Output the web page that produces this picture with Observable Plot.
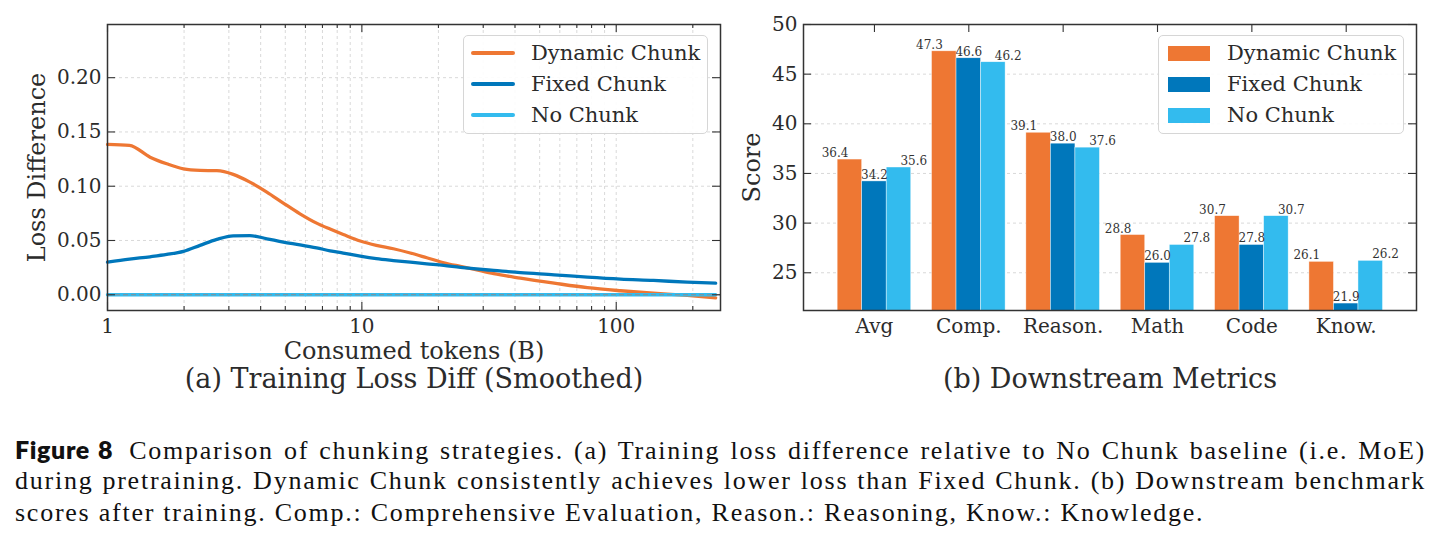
<!DOCTYPE html>
<html>
<head>
<meta charset="utf-8">
<script src="https://cdn.jsdelivr.net/npm/d3@7"></script>
<script src="https://cdn.jsdelivr.net/npm/@observablehq/plot@0.6"></script>
<style>
  body { margin: 0; background: #fff; }
  #fig { position: relative; width: 1445px; height: 544px; overflow: hidden; font-family: "DejaVu Serif", serif; color: #2b2b2b; }
  #pa { position: absolute; left: 0; top: 0; }
  #pb { position: absolute; left: 722px; top: 0; }
  .legend { position: absolute; background: rgba(255,255,255,0.9); border: 1px solid #d6d6d6; border-radius: 5px; box-sizing: border-box; }
  .row { position: absolute; left: 0; right: 0; height: 31px; }
  .sw-line { position: absolute; height: 3.4px; margin-top: -1.7px; top: 50%; }
  .sw-patch { position: absolute; height: 15px; margin-top: -7.5px; top: 50%; }
  .lab { position: absolute; top: 50%; transform: translateY(-50%); font-size: 21px; white-space: nowrap; line-height: 1; }
  #caption { position: absolute; left: 15px; top: 433px; width: 1411px; font-family: "Liberation Serif", serif; font-size: 26px; color: #111; letter-spacing: 1.75px; }
  #caption .ln { height: 32px; line-height: 32px; white-space: nowrap; }
  #caption .j { text-align: justify; text-align-last: justify; white-space: normal; }
  #caption b { font-family: Lato, "Noto Sans", sans-serif; font-weight: 800; font-size: 25px; letter-spacing: 0.6px; margin-right: 6px; }
</style>
</head>
<body>
<div id="fig">
  <div id="pa"></div>
  <div id="pb"></div>
  <div id="legA" class="legend" style="left:463px;top:35px;width:245px;height:99px;"></div>
  <div id="legB" class="legend" style="left:1158px;top:35px;width:246px;height:99px;"></div>
  <div id="caption">
    <div class="ln j"><b>Figure 8</b> Comparison of chunking strategies. (a) Training loss difference relative to No Chunk baseline (i.e. MoE)</div>
    <div class="ln j">during pretraining. Dynamic Chunk consistently achieves lower loss than Fixed Chunk. (b) Downstream benchmark</div>
    <div class="ln">scores after training. Comp.: Comprehensive Evaluation, Reason.: Reasoning, Know.: Knowledge.</div>
  </div>
</div>
<script>
// ---------- data ----------
const seriesNames = ["Dynamic Chunk", "Fixed Chunk", "No Chunk"];

// (a) training loss difference vs consumed tokens (B)
const tokens      = [1, 1.22, 1.47, 1.71, 1.99, 2.31, 2.69, 3.12, 3.63, 4.23, 4.91, 5.71, 6.64, 7.5, 8.45, 9.85, 11.4, 13.3, 15.5, 18.0, 21.0, 24.4, 27.5, 33, 42, 57, 77, 104, 140, 190, 246];
const dynamicLoss = [0.1385, 0.1376, 0.1268, 0.1207, 0.1160, 0.1146, 0.1143, 0.1109, 0.1038, 0.0946, 0.0845, 0.0746, 0.0660, 0.0605, 0.0555, 0.0495, 0.0455, 0.0424, 0.0385, 0.0341, 0.0295, 0.0261, 0.0235, 0.0194, 0.0153, 0.0107, 0.0065, 0.0037, 0.0015, -0.0006, -0.0028];
const fixedLoss   = [0.0300, 0.0328, 0.0350, 0.0371, 0.0400, 0.0455, 0.0510, 0.0543, 0.0545, 0.0516, 0.0485, 0.0460, 0.0432, 0.0405, 0.0384, 0.0355, 0.0332, 0.0315, 0.0300, 0.0285, 0.0270, 0.0252, 0.0240, 0.0224, 0.0203, 0.0184, 0.0162, 0.0144, 0.0132, 0.0116, 0.0107];
const noChunkLoss = [0, 0, 0, 0, 0, 0, 0, 0, 0, 0, 0, 0, 0, 0, 0, 0, 0, 0, 0, 0, 0, 0, 0, 0, 0, 0, 0, 0, 0, 0, 0];
const lossTicks   = [0, 0.05, 0.10, 0.15, 0.20];
const tokenTickLabels = [1, 10, 100];

// (b) downstream metrics
const categories    = ["Avg", "Comp.", "Reason.", "Math", "Code", "Know."];
const dynamicScores = [36.4, 47.3, 39.1, 28.8, 30.7, 26.1];
const fixedScores   = [34.2, 46.6, 38.0, 26.0, 27.8, 21.9];
const noChunkScores = [35.6, 46.2, 37.6, 27.8, 30.7, 26.2];
const scoreTicks    = [25, 30, 35, 40, 45, 50];

// ---------- style ----------
const colors = ["#EE7733", "#0077BB", "#33BBEE"];
const ink = "#2b2b2b";
const fontStyle = {fontFamily: '"DejaVu Serif", serif', fontSize: "20px", color: ink, background: "transparent", overflow: "visible"};
const gridStyle = {stroke: "#cfcfcf", strokeWidth: 0.8, strokeDasharray: "3,3"};
const tickStyle = {stroke: "#333", strokeWidth: 1.1};

// ---------- panel (a) ----------
const W = 722, H = 400, mT = 24, mB = 90;
const aL = 107, aR = 2;
const frameHA = H - mT - mB, frameWA = W - aL - aR;
const lossSeries = [dynamicLoss, fixedLoss, noChunkLoss];
const lossTable = [];
lossSeries.forEach((vals, si) => tokens.forEach((t, i) => lossTable.push({series: seriesNames[si], t, v: vals[i]})));
const xDomA = [1, 257];
const allLogTicks = d3.scaleLog().domain(xDomA).ticks();
const minorLog = allLogTicks.filter(d => !tokenTickLabels.includes(d));

const plotA = Plot.plot({
  width: W, height: H, marginLeft: aL, marginRight: aR, marginTop: mT, marginBottom: mB,
  style: fontStyle,
  x: {type: "log", domain: xDomA},
  y: {domain: [-0.0145, 0.249]},
  color: {domain: seriesNames, range: colors},
  marks: [
    Plot.ruleX(allLogTicks, {x: d => d, ...gridStyle}),
    Plot.ruleY(lossTicks, {y: d => d, ...gridStyle}),
    Plot.line(lossTable, {x: "t", y: "v", z: "series", stroke: "series", strokeWidth: 3.3, curve: "monotone-x"}),
    Plot.ruleY([0], {stroke: "#8f8f8f", strokeWidth: 1.1, strokeDasharray: "5,3"}),
    // inward ticks
    Plot.tickY(lossTicks, {y: d => d, insetRight: frameWA - 8, ...tickStyle}),
    Plot.tickY(lossTicks, {y: d => d, insetLeft: frameWA - 8, ...tickStyle}),
    Plot.tickX(tokenTickLabels, {x: d => d, insetTop: frameHA - 8, ...tickStyle}),
    Plot.tickX(tokenTickLabels, {x: d => d, insetBottom: frameHA - 8, ...tickStyle}),
    Plot.tickX(minorLog, {x: d => d, insetTop: frameHA - 4, ...tickStyle}),
    Plot.tickX(minorLog, {x: d => d, insetBottom: frameHA - 4, ...tickStyle}),
    Plot.frame({stroke: "#333", strokeWidth: 1.5}),
    Plot.axisY({ticks: lossTicks, tickFormat: d3.format(".2f"), tickSize: 0, tickPadding: 6, label: null, fontSize: 20}),
    Plot.axisX({ticks: tokenTickLabels, tickFormat: d => String(d), tickSize: 0, tickPadding: 8, label: null, fontSize: 20}),
    Plot.text(["Loss Difference"], {frameAnchor: "left", rotate: -90, dx: -70, textAnchor: "middle", lineAnchor: "middle", fontSize: 24, fill: ink}),
    Plot.text(["Consumed tokens (B)"], {frameAnchor: "bottom", dy: 41, textAnchor: "middle", lineAnchor: "middle", fontSize: 24, fill: ink}),
    Plot.text(["(a) Training Loss Diff (Smoothed)"], {frameAnchor: "bottom", dy: 69, textAnchor: "middle", lineAnchor: "middle", fontSize: 27, fill: ink})
  ]
});
document.getElementById("pa").appendChild(plotA);

// ---------- panel (b) ----------
const bL = 81, bR = 29;
const frameWB = W + 1 - bL - bR;
const barW = 0.26;
const scoreSeries = [dynamicScores, fixedScores, noChunkScores];
const barTable = [];
scoreSeries.forEach((vals, si) => categories.forEach((c, ci) => {
  const xc = ci + (si - 1) * barW;
  barTable.push({series: seriesNames[si], si, ci, value: vals[ci], xc, x1: xc - barW / 2, x2: xc + barW / 2});
}));
const catIdx = d3.range(categories.length);
const anchors = ["end", "middle", "start"];
const dxs = [-1.5, 0, 1.5];

const plotB = Plot.plot({
  width: W + 1, height: H, marginLeft: bL, marginRight: bR, marginTop: mT, marginBottom: mB,
  style: fontStyle,
  x: {domain: [-0.752, 5.745]},
  y: {domain: [21.2, 50]},
  color: {domain: seriesNames, range: colors},
  marks: [
    Plot.ruleY(scoreTicks, {y: d => d, ...gridStyle}),
    Plot.rect(barTable, {x1: "x1", x2: "x2", y1: () => 0, y2: "value", fill: "series", stroke: "white", strokeWidth: 0.6, strokeOpacity: 0.7, clip: true}),
    ...anchors.map((a, si) => Plot.text(barTable.filter(d => d.si === si), {
      x: "xc", y: "value", text: d => d.value.toFixed(1), textAnchor: a, dx: dxs[si], dy: -2.5,
      lineAnchor: "bottom", fontSize: 12, fill: "#333"
    })),
    Plot.tickY(scoreTicks, {y: d => d, insetRight: frameWB - 8, ...tickStyle}),
    Plot.tickY(scoreTicks, {y: d => d, insetLeft: frameWB - 8, ...tickStyle}),
    Plot.tickX(catIdx, {x: d => d, insetBottom: frameHA - 8, ...tickStyle}),
    Plot.frame({stroke: "#333", strokeWidth: 1.5}),
    Plot.axisY({ticks: scoreTicks, tickSize: 0, tickPadding: 6, label: null, fontSize: 20}),
    Plot.axisX({ticks: catIdx, tickFormat: i => categories[i], tickSize: 0, tickPadding: 8, label: null, fontSize: 20}),
    Plot.text(["Score"], {frameAnchor: "left", rotate: -90, dx: -51, textAnchor: "middle", lineAnchor: "middle", fontSize: 24, fill: ink}),
    Plot.text(["(b) Downstream Metrics"], {frameAnchor: "bottom", dy: 69, textAnchor: "middle", lineAnchor: "middle", fontSize: 27, fill: ink})
  ]
});
document.getElementById("pb").appendChild(plotB);

// ---------- legends ----------
function buildLegend(id, kind, swL, swW, labL) {
  const box = document.getElementById(id);
  seriesNames.forEach((name, i) => {
    const row = document.createElement("div");
    row.className = "row";
    row.style.top = (1.5 + i * 31) + "px";
    const sw = document.createElement("div");
    sw.className = kind === "line" ? "sw-line" : "sw-patch";
    sw.style.left = swL + "px";
    sw.style.width = swW + "px";
    sw.style.background = colors[i];
    if (kind === "line") sw.style.borderRadius = "2px";
    const lab = document.createElement("div");
    lab.className = "lab";
    lab.style.left = labL + "px";
    lab.textContent = name;
    row.appendChild(sw); row.appendChild(lab);
    box.appendChild(row);
  });
}
buildLegend("legA", "line", 7, 44, 67);
buildLegend("legB", "patch", 9, 42, 68);
</script>
</body>
</html>
